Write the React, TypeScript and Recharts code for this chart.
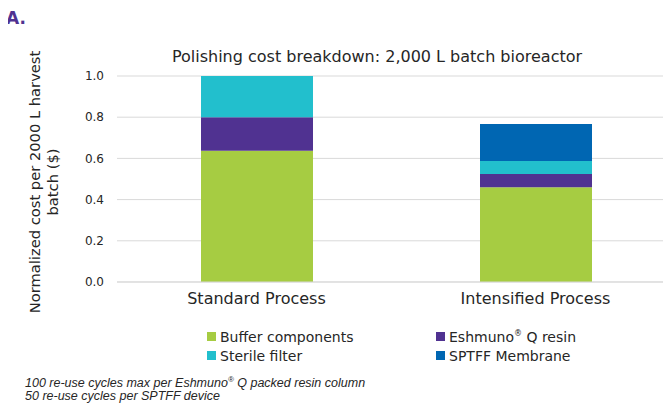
import { BarChart, Bar, XAxis, YAxis, CartesianGrid } from "recharts"

const categories = ["Standard Process", "Intensified Process"]
const bufferComponents = [0.637, 0.46]
const eshmunoResin = [0.163, 0.064]
const sterileFilter = [0.2, 0.063]
const sptffMembrane = [0, 0.18]
const yTicks = [0, 0.2, 0.4, 0.6, 0.8, 1.0]

const SERIES = [
  { key: "buffer", name: "Buffer components", color: "#a6cc42" },
  { key: "resin", name: "Eshmuno® Q resin", color: "#503291" },
  { key: "sterile", name: "Sterile filter", color: "#22bfcd" },
  { key: "sptff", name: "SPTFF Membrane", color: "#0066b2" },
]

const data = categories.map((name, i) => ({
  name,
  buffer: bufferComponents[i],
  resin: eshmunoResin[i],
  sterile: sterileFilter[i],
  sptff: sptffMembrane[i],
}))

const FONT = "Verdana, 'DejaVu Sans', sans-serif"

function LegendItem({ color, label }: { color: string; label: React.ReactNode }) {
  return (
    <div style={{ display: "flex", alignItems: "center", height: 19 }}>
      <span style={{ width: 9, height: 9, background: color, marginRight: 4, flexShrink: 0 }} />
      <span>{label}</span>
    </div>
  )
}

export default function App() {
  return (
    <div
      style={{
        position: "relative",
        width: 671,
        height: 404,
        marginLeft: -8,
        marginTop: -8,
        overflow: "hidden",
        background: "#fff",
        fontFamily: FONT,
        color: "#262626",
      }}
    >
      <div
        style={{
          position: "absolute",
          left: 6,
          top: 8,
          fontSize: 17,
          fontWeight: "bold",
          color: "#503291",
        }}
      >
        A.
      </div>
      <div
        style={{
          position: "absolute",
          left: 117,
          width: 520,
          top: 47,
          textAlign: "center",
          fontSize: 16,
          lineHeight: "20px",
          whiteSpace: "nowrap",
        }}
      >
        Polishing cost breakdown: 2,000 L batch bioreactor
      </div>

      <div style={{ position: "absolute", left: 0, top: 0 }}>
        <BarChart
          width={680}
          height={404}
          data={data}
          margin={{ top: 76, right: 5, left: 0, bottom: 0 }}
        >
          <CartesianGrid vertical={false} stroke="#d9d9d9" />
          <XAxis
            dataKey="name"
            height={122}
            axisLine={{ stroke: "#d9d9d9" }}
            tickLine={false}
            tickSize={0}
            tickMargin={11}
            tick={{ fill: "#262626", fontSize: 16, fontFamily: FONT }}
          />
          <YAxis
            width={117}
            domain={[0, 1]}
            ticks={yTicks}
            tickFormatter={(v: number) => v.toFixed(1)}
            axisLine={false}
            tickLine={false}
            tickSize={0}
            tickMargin={13}
            tick={{ fill: "#262626", fontSize: 12, fontFamily: FONT }}
          />
          {SERIES.map((s) => (
            <Bar
              key={s.key}
              dataKey={s.key}
              name={s.name}
              stackId="a"
              fill={s.color}
              barSize={112}
              isAnimationActive={false}
            />
          ))}
        </BarChart>
      </div>

      <svg
        width={80}
        height={300}
        style={{ position: "absolute", left: 0, top: 30 }}
      >
        <text
          transform="translate(0,152) rotate(-90)"
          textAnchor="middle"
          fontSize={14.7}
          fontFamily={FONT}
          fill="#262626"
        >
          <tspan x={0} y={40}>Normalized cost per 2000 L harvest</tspan>
          <tspan x={0} y={58}>batch ($)</tspan>
        </text>
      </svg>

      <div
        style={{
          position: "absolute",
          left: 207,
          top: 327,
          display: "grid",
          gridTemplateColumns: "229px 200px",
          fontSize: 14,
        }}
      >
        <LegendItem color={SERIES[0].color} label={SERIES[0].name} />
        <LegendItem
          color={SERIES[1].color}
          label={
            <>
              Eshmuno<sup style={{ fontSize: 8, lineHeight: 0 }}>®</sup> Q resin
            </>
          }
        />
        <LegendItem color={SERIES[2].color} label={SERIES[2].name} />
        <LegendItem color={SERIES[3].color} label={SERIES[3].name} />
      </div>

      <div
        style={{
          position: "absolute",
          left: 25,
          top: 377,
          fontFamily: "Arial, 'Liberation Sans', sans-serif",
          fontStyle: "italic",
          fontSize: 12.5,
          lineHeight: "13px",
          color: "#262626",
        }}
      >
        <div>
          100 re-use cycles max per Eshmuno<sup style={{ fontSize: 8, lineHeight: 0 }}>®</sup> Q packed resin column
        </div>
        <div>50 re-use cycles per SPTFF device</div>
      </div>
    </div>
  )
}
